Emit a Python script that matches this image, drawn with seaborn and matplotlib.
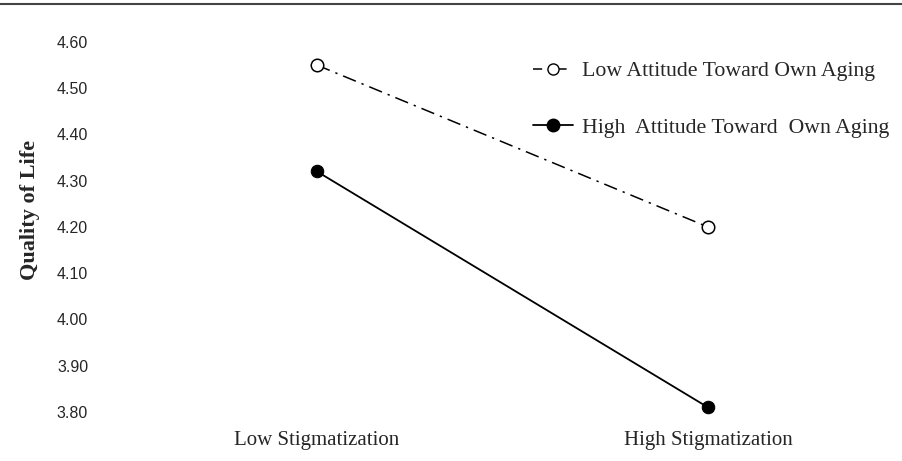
import matplotlib
matplotlib.use("Agg")
import matplotlib.pyplot as plt
import seaborn as sns
import pandas as pd
from matplotlib.lines import Line2D

categories = ["Low Stigmatization", "High Stigmatization"]
low_attitude = [4.55, 4.20]
high_attitude = [4.32, 3.81]
series_names = ["Low Attitude Toward Own Aging", "High  Attitude Toward  Own Aging"]
yticks = [3.80, 3.90, 4.00, 4.10, 4.20, 4.30, 4.40, 4.50, 4.60]

df = pd.DataFrame({
    "cond": categories * 2,
    "qol": low_attitude + high_attitude,
    "group": [series_names[0]] * 2 + [series_names[1]] * 2,
})

sns.set_theme(style="white")
plt.rcParams["font.family"] = ["Liberation Serif", "DejaVu Serif"]

W, H = 903, 461
fig = plt.figure(figsize=(W / 100, H / 100), dpi=100)
ax_left, ax_right = 121.5, 903.5
ax_top, ax_bot = 33, 420
ax = fig.add_axes([ax_left / W, 1 - ax_bot / H, (ax_right - ax_left) / W, (ax_bot - ax_top) / H])

dashdot = (0, (9, 4, 1.5, 4))
sns.lineplot(data=df[df.group == series_names[0]], x="cond", y="qol", ax=ax,
             color="black", linewidth=1.1, linestyle=dashdot,
             marker="o", markersize=9, markerfacecolor="white",
             markeredgecolor="black", markeredgewidth=1.1, legend=False)
sns.lineplot(data=df[df.group == series_names[1]], x="cond", y="qol", ax=ax,
             color="black", linewidth=1.3, linestyle="-",
             marker="o", markersize=9, markerfacecolor="black",
             markeredgecolor="black", legend=False)

ax.set_xlim(-0.5, 1.5)
ax.set_ylim(3.80 - 8 / 462.5, 4.60 + 9 / 462.5)
ax.set_yticks(yticks)
ax.set_yticklabels([f"{v:.2f}" for v in yticks], family="Liberation Sans", fontsize=11.5)
ax.tick_params(axis="y", length=0, pad=24)
ax.tick_params(axis="x", length=0, pad=8, labelsize=15)
ax.set_xlabel("")
ax.set_ylabel("Quality of Life", fontweight="bold", fontsize=16)
ax.yaxis.set_label_coords((40 - ax_left) / (ax_right - ax_left), (ax_bot - 210) / (ax_bot - ax_top))
for s in ax.spines.values():
    s.set_visible(False)
ax.grid(False)

handles = [
    Line2D([], [], color="black", linewidth=1.1, linestyle=(0, (6, 7, 9, 9, 1.5, 20)),
           marker="o", markersize=8, markerfacecolor="white", markeredgecolor="black"),
    Line2D([], [], color="black", linewidth=1.3, marker="o", markersize=9,
           markerfacecolor="black"),
]
fig.legend(handles, series_names, loc="upper left",
           bbox_to_anchor=(533 / W, 1 - 61 / H), bbox_transform=fig.transFigure,
           frameon=False, fontsize=15.7, handlelength=1.84, handletextpad=0.42,
           labelspacing=1.65, borderpad=0, borderaxespad=0)

fig.add_artist(Line2D([0, 1], [1 - 4 / H, 1 - 4 / H], color="#444444", linewidth=1.5))

fig.savefig("out.png", dpi=100, facecolor="white")
